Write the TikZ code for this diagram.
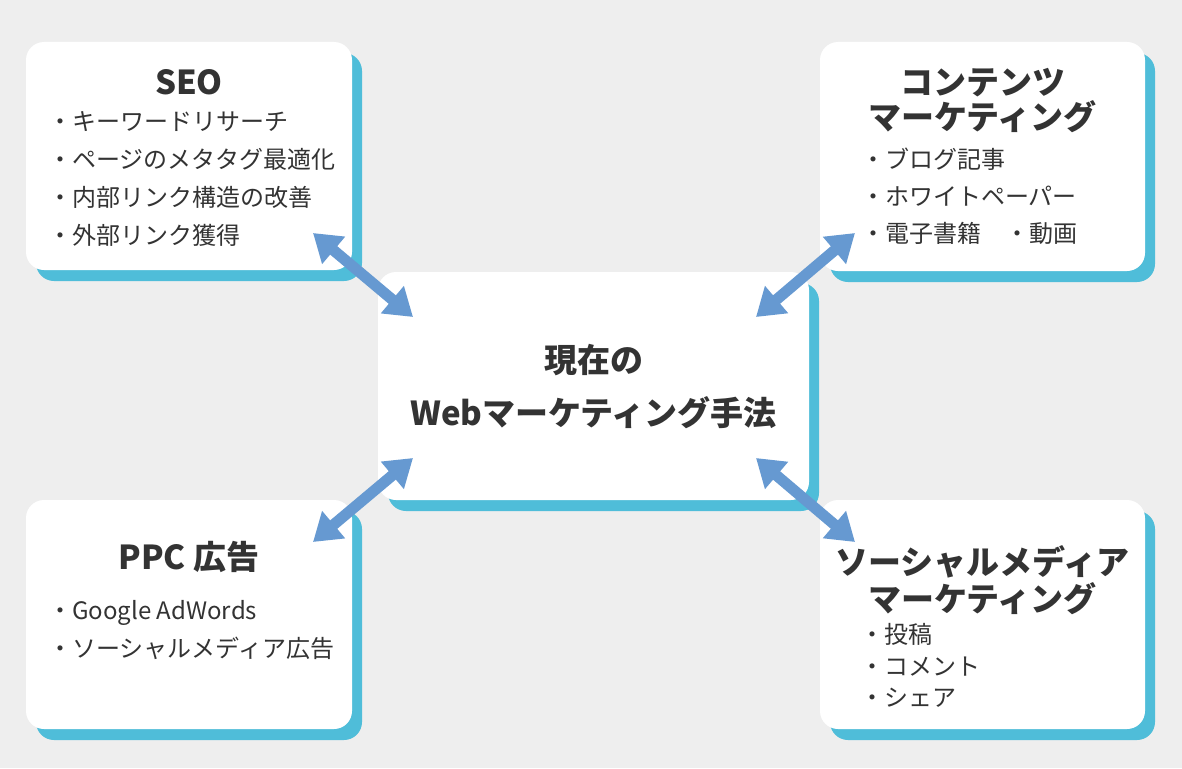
\documentclass[tikz,border=0pt]{standalone}
\usepackage{fontspec}
\setmainfont{Noto Sans CJK JP}
\usetikzlibrary{arrows.meta,shadows}
\definecolor{bgc}{HTML}{EEEEEE}
\definecolor{shc}{HTML}{4FBDD9}
\definecolor{arc}{HTML}{6699D1}
\definecolor{txt}{HTML}{333333}
\begin{document}
\begin{tikzpicture}[x=1pt,y=-1pt,
  card/.style={fill=white, draw=none, rounded corners=18pt, inner sep=0pt,
    drop shadow={shadow xshift=10pt, shadow yshift=-11pt, fill=shc, opacity=1}},
  ttl/.style={text=txt, inner sep=0pt, font=\fontsize{33}{40}\selectfont\bfseries,
    text height=29pt, text depth=4pt},
  itm/.style={text=txt, inner sep=0pt, anchor=west, font=\fontsize{24}{30}\selectfont,
    text height=21pt, text depth=3pt},
  link/.style={draw=arc, line width=11pt,
    {Triangle[length=27pt,width=34pt]}-{Triangle[length=27pt,width=34pt]}}]
\useasboundingbox (0,0) rectangle (1182,768);
\fill[bgc] (0,0) rectangle (1182,768);

% cards
\node[card, minimum width=326pt, minimum height=228pt] (seo) at (189,156) {};
\node[card, minimum width=325pt, minimum height=229pt] (cont) at (982.5,156.5) {};
\node[card, minimum width=431pt, minimum height=228pt] (mid) at (593.5,386) {};
\node[card, minimum width=326pt, minimum height=229pt] (ppc) at (189,614.5) {};
\node[card, minimum width=325pt, minimum height=229pt] (soc) at (982.5,614.5) {};

% SEO
\node[ttl] (seoT) at (189,82) {SEO};
\node[itm] (seo1) at (48,121) {・キーワードリサーチ};
\node[itm] (seo2) at (48,159) {・ページのメタタグ最適化};
\node[itm] (seo3) at (48,197) {・内部リンク構造の改善};
\node[itm] (seo4) at (48,235) {・外部リンク獲得};

% Content
\node[ttl] (contT1) at (982.5,82) {コンテンツ};
\node[ttl] (contT2) at (982.5,117) {マーケティング};
\node[itm] (cont1) at (861,159.5) {・ブログ記事};
\node[itm] (cont2) at (861,196.5) {・ホワイトペーパー};
\node[itm] (cont3) at (861,233.5) {・電子書籍　・動画};

% Center
\node[ttl] (midT1) at (593.5,360) {現在の};
\node[ttl] (midT2) at (593.5,413) {Webマーケティング手法};

% PPC
\node[ttl] (ppcT) at (189,557) {PPC 広告};
\node[itm] (ppc1) at (48,610) {・Google AdWords};
\node[itm] (ppc2) at (48,648) {・ソーシャルメディア広告};

% Social
\node[ttl] (socT1) at (982.5,562) {ソーシャルメディア};
\node[ttl] (socT2) at (982.5,599) {マーケティング};
\node[itm] (soc1) at (860,634) {・投稿};
\node[itm] (soc2) at (860,666) {・コメント};
\node[itm] (soc3) at (860,697) {・シェア};

% arrow ends
\coordinate (aSeo) at (313,233);
\coordinate (aMidNW) at (413,317);
\coordinate (aCont) at (855,233);
\coordinate (aMidNE) at (756,317);
\coordinate (aPpc) at (313,542);
\coordinate (aMidSW) at (413,458);
\coordinate (aSoc) at (855,542);
\coordinate (aMidSE) at (756,458);

\draw[link] (aSeo) -- (aMidNW);
\draw[link] (aCont) -- (aMidNE);
\draw[link] (aPpc) -- (aMidSW);
\draw[link] (aSoc) -- (aMidSE);
\end{tikzpicture}
\end{document}
